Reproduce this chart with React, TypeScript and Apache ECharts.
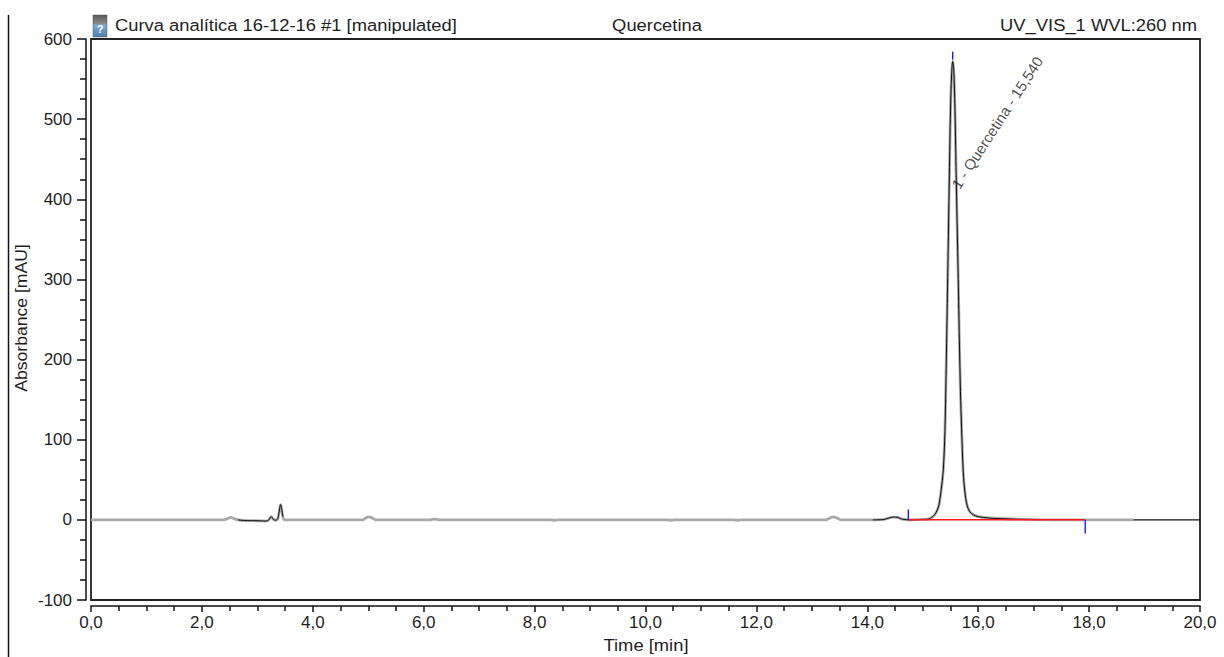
import React, { useEffect, useRef } from "react";
import * as echarts from "echarts";

// ---- Data ----
const TITLE_LEFT = "Curva analítica 16-12-16 #1 [manipulated]";
const TITLE_CENTER = "Quercetina";
const TITLE_RIGHT = "UV_VIS_1 WVL:260 nm";
const X_NAME = "Time [min]";
const Y_NAME = "Absorbance [mAU]";

const X_MIN = 0;
const X_MAX = 20;
const X_INTERVAL = 2;
const Y_MIN = -100;
const Y_MAX = 600;
const Y_INTERVAL = 100;

// retention time (min)
const TRACE_TIME = [
  0.0, 2.4, 2.46, 2.52, 2.58, 2.65, 2.75, 2.9, 3.05, 3.15, 3.2, 3.25, 3.29, 3.33, 3.37, 3.42, 3.46, 3.49,
  4.9, 4.96, 5.01, 5.07, 5.13, 6.12, 6.2, 6.28, 8.3, 8.36, 8.42, 10.4, 10.46, 10.52, 11.6, 11.66, 11.72,
  13.25, 13.33, 13.39, 13.45, 13.52, 14.1, 14.3, 14.4, 14.47, 14.55, 14.62, 14.7, 14.74,
  14.9, 15.0, 15.1, 15.18, 15.24, 15.29, 15.33, 15.37, 15.4, 15.42, 15.44, 15.46, 15.48, 15.5, 15.52, 15.54,
  15.56, 15.58, 15.6, 15.62, 15.64, 15.66, 15.68, 15.7, 15.73, 15.76, 15.8, 15.85, 15.92, 16.0, 16.1, 16.25,
  16.45, 16.7, 17.1, 17.6, 18.8,
];
// absorbance (mAU)
const TRACE_ABS = [
  0, 0, 1.5, 3, 1.5, 0, -0.8, -1, -1.2, -1.5, -0.5, 4, 0.5, -0.5, 2, 19, 4, 0,
  0, 2.5, 3.8, 2.5, 0, 0, 1, 0, 0, -0.5, 0, 0, -0.5, 0, 0, -0.5, 0,
  0, 2.5, 3.8, 2.5, 0, 0, 0.5, 2.5, 3.5, 3, 1, 0.2, 0,
  0.3, 0.6, 1, 4, 9, 18, 36, 62, 110, 180, 260, 345, 430, 510, 555, 572,
  560, 515, 440, 370, 300, 225, 160, 115, 60, 35, 18, 10, 6, 4, 3, 2,
  1.4, 0.8, 0.3, 0, 0,
];

// time windows where the black (second) trace is visible over the grey one
const BLACK_WINDOWS = [
  [2.64, 3.47],
  [14.1, 17.23],
];
const ZERO_LINE_TAIL = [18.8, 20];

// peak integration
const PEAK_NAME = "1 - Quercetina - 15,540";
const PEAK_RT = 15.54;
const PEAK_MARK = [574, 584];
const BASE_START = 14.74;
const BASE_END = 17.93;
const BASE_START_MARK = [0, 13];
const BASE_END_MARK = [0, -17];
const PEAK_LABEL_AT = [15.585, 415];

const fmtX = (v: number) => v.toFixed(1).replace(".", ",");

export default function App() {
  const ref = useRef<HTMLDivElement>(null);

  useEffect(() => {
    if (!ref.current) return;
    const chart = echarts.init(ref.current, null, { renderer: "svg" });

    const trace = TRACE_TIME.map((t, i) => [t, TRACE_ABS[i]]);
    const blackSeries = BLACK_WINDOWS.map(([a, b]) => trace.filter(([t]) => t >= a && t <= b));
    const font = "Liberation Sans, Arial, sans-serif";

    const lineBase = {
      type: "line",
      showSymbol: false,
      symbol: "none",
      silent: true,
      animation: false,
    };

    const titleText = (text: string, x: number, y: number, align: string, extra: any = {}) => ({
      type: "text",
      x,
      y,
      scaleX: 1.08,
      ...extra,
      style: {
        text,
        fill: "#1e1e1e",
        fontSize: 17,
        fontFamily: font,
        textAlign: align,
        textVerticalAlign: "middle",
      },
    });

    chart.setOption({
      animation: false,
      backgroundColor: "#ffffff",
      textStyle: { fontFamily: font },
      grid: {
        left: 91,
        right: 24,
        top: 39,
        bottom: 57,
        show: true,
        borderColor: "#222",
        borderWidth: 1.8,
        backgroundColor: "transparent",
      },
      xAxis: {
        type: "value",
        min: X_MIN,
        max: X_MAX,
        interval: X_INTERVAL,
        offset: 6,
        axisLine: { show: true, onZero: false, lineStyle: { color: "#111", width: 1.5 } },
        axisTick: { show: true, inside: false, length: 6, lineStyle: { color: "#111", width: 1.5 } },
        minorTick: { show: true, splitNumber: 4, length: 5, lineStyle: { color: "#111", width: 1.5 } },
        splitLine: { show: false },
        axisLabel: {
          formatter: fmtX,
          fontSize: 17,
          color: "#1e1e1e",
          margin: 8,
          fontFamily: font,
        },
      },
      yAxis: {
        type: "value",
        min: Y_MIN,
        max: Y_MAX,
        interval: Y_INTERVAL,
        offset: 5,
        axisLine: { show: true, onZero: false, lineStyle: { color: "#111", width: 1.5 } },
        axisTick: { show: true, inside: false, length: 9, lineStyle: { color: "#111", width: 1.5 } },
        minorTick: { show: true, splitNumber: 4, length: 6, lineStyle: { color: "#111", width: 1.5 } },
        splitLine: { show: false },
        axisLabel: { fontSize: 17, color: "#1e1e1e", margin: 14, fontFamily: font },
      },
      series: [
        {
          ...lineBase,
          name: "trace",
          data: trace,
          smooth: 0.3,
          lineStyle: { color: "#a9a9a9", width: 2.8 },
          z: 2,
        },
        ...blackSeries.map((d, i) => ({
          ...lineBase,
          name: "overlay" + i,
          data: d,
          smooth: 0.3,
          lineStyle: { color: "#111", width: 1 },
          z: 3,
        })),
        {
          ...lineBase,
          name: "zero",
          data: ZERO_LINE_TAIL.map((t) => [t, 0]),
          lineStyle: { color: "#111", width: 1.3 },
          z: 3,
        },
        {
          ...lineBase,
          name: "baseline",
          data: [
            [BASE_START, 0],
            [BASE_END, 0],
          ],
          lineStyle: { color: "#ff1a1a", width: 1.5 },
          z: 4,
        },
        {
          ...lineBase,
          name: "peakMark",
          data: PEAK_MARK.map((v) => [PEAK_RT, v]),
          lineStyle: { color: "#1a1aff", width: 1.4 },
          z: 4,
        },
        {
          ...lineBase,
          name: "startMark",
          data: BASE_START_MARK.map((v) => [BASE_START, v]),
          lineStyle: { color: "#1a1aff", width: 1.4 },
          z: 4,
        },
        {
          ...lineBase,
          name: "endMark",
          data: BASE_END_MARK.map((v) => [BASE_END, v]),
          lineStyle: { color: "#1a1aff", width: 1.4 },
          z: 4,
        },
        {
          type: "scatter",
          name: "peakLabel",
          silent: true,
          symbolSize: 0,
          data: [PEAK_LABEL_AT],
          z: 5,
          label: {
            show: true,
            formatter: PEAK_NAME,
            position: "inside",
            rotate: 57,
            align: "left",
            verticalAlign: "middle",
            fontSize: 15,
            color: "#1e1e1e",
            fontFamily: font,
          },
        },
      ],
      graphic: [
        {
          type: "line",
          shape: { x1: 8.5, y1: 15, x2: 8.5, y2: 657 },
          style: { stroke: "#111", lineWidth: 1.5 },
        },
        {
          type: "rect",
          shape: { x: 93, y: 15, width: 14, height: 22 },
          style: {
            fill: new echarts.graphic.LinearGradient(0, 0, 0, 1, [
              { offset: 0, color: "#5a5a5a" },
              { offset: 0.4, color: "#8a8a8a" },
              { offset: 0.45, color: "#7fa6cf" },
              { offset: 1, color: "#4f7fb5" },
            ]),
            stroke: "#555",
            lineWidth: 0.5,
          },
        },
        {
          type: "text",
          x: 100,
          y: 29,
          style: {
            text: "?",
            fill: "#ffffff",
            fontSize: 11,
            fontWeight: "bold",
            fontFamily: font,
            textAlign: "center",
            textVerticalAlign: "middle",
          },
        },
        titleText(TITLE_LEFT, 115, 25, "left"),
        titleText(TITLE_CENTER, 657, 25, "center"),
        titleText(TITLE_RIGHT, 1197, 25, "right"),
        titleText(X_NAME, 646, 645, "center"),
        {
          type: "text",
          x: 22,
          y: 318,
          rotation: Math.PI / 2,
          scaleX: 1.1,
          style: {
            text: Y_NAME,
            fill: "#1e1e1e",
            fontSize: 16,
            fontFamily: font,
            textAlign: "center",
            textVerticalAlign: "middle",
          },
        },
      ],
    });

    return () => chart.dispose();
  }, []);

  return (
    <div
      ref={ref}
      style={{ position: "fixed", left: 0, top: 0, width: 1224, height: 657, background: "#fff" }}
    />
  );
}
